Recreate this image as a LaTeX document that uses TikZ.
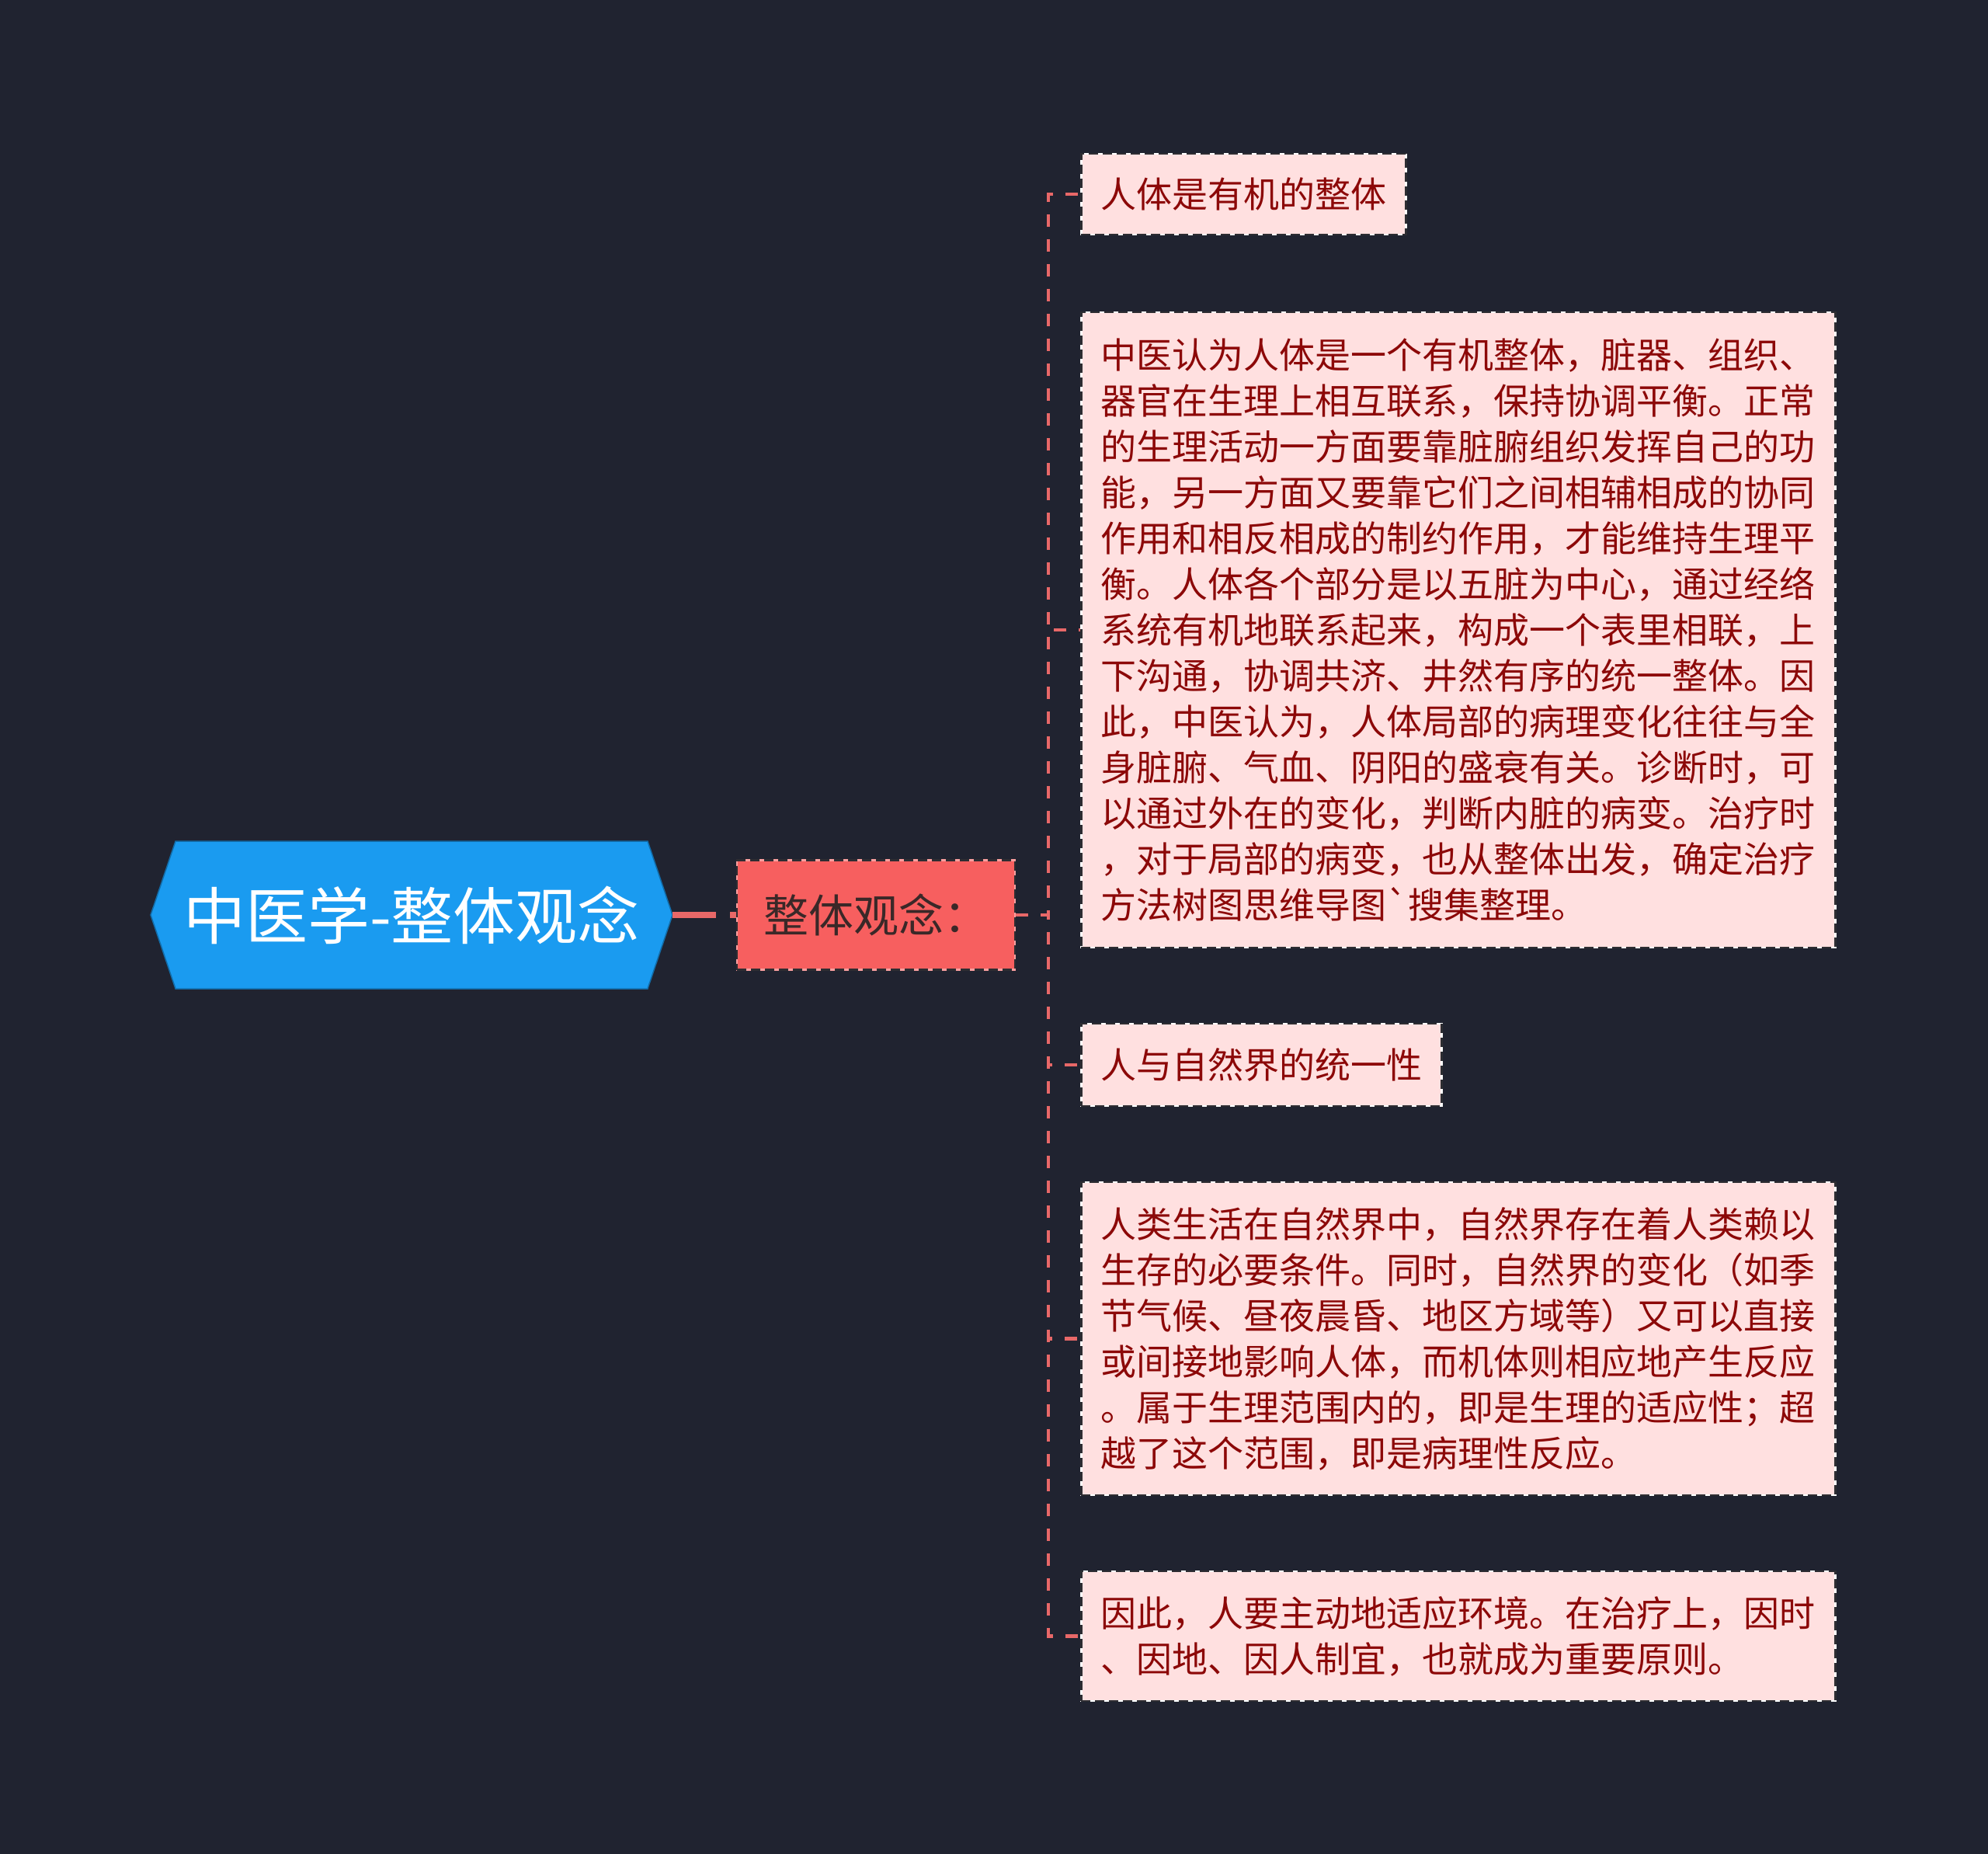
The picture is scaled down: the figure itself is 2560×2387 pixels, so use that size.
\documentclass[tikz,border=0pt]{standalone}
\usepackage{fontspec}
\newfontfamily\cjk{Noto Sans CJK SC}
\definecolor{bg}{RGB}{32,35,48}
\definecolor{hexblue}{RGB}{26,155,240}
\definecolor{midfill}{RGB}{247,95,95}
\definecolor{midtext}{RGB}{58,40,40}
\definecolor{leaffill}{RGB}{255,224,224}
\definecolor{leaftext}{RGB}{140,8,8}
\definecolor{conn}{RGB}{232,104,104}
\definecolor{bordark}{RGB}{45,45,50}
\begin{document}
\begin{tikzpicture}[x=1pt,y=-1pt,
  rootbox/.style={minimum width=672pt, minimum height=190pt, inner sep=0pt, text=white,
    font=\cjk\fontsize{80}{96}\selectfont},
  midbox/.style={fill=midfill, draw=midfill!60!white, line width=2.5pt,
    postaction={draw=bordark, line width=2.5pt, dash pattern=on 12pt off 6pt},
    minimum width=358pt, minimum height=141pt, inner sep=0pt, text=midtext,
    font=\cjk\fontsize{58}{70}\selectfont},
  leafbox/.style={fill=leaffill, draw=white, line width=2.5pt,
    postaction={draw=bordark, line width=2.5pt, dash pattern=on 12pt off 6pt},
    anchor=west, inner xsep=25pt, inner ysep=0pt, text=leaftext, align=left,
    font=\cjk\fontsize{46}{59}\selectfont},
  mainlink/.style={draw=conn, line width=7.5pt, dash pattern=on 56pt off 18pt},
  branch/.style={draw=conn, line width=4.5pt, dash pattern=on 16pt off 16pt}
]
\fill[bg] (0,0) rectangle (2560,2387);
\useasboundingbox (0,0) rectangle (2560,2387);

% root hexagon
\fill[hexblue, draw=hexblue!70!black, line width=1.5pt]
  (194,1178) -- (226,1083) -- (834,1083) -- (866,1178) -- (834,1273) -- (226,1273) -- cycle;
\node[rootbox] (root) at (530,1178) {中医学-整体观念};

\node[midbox] (mid) at (1128,1178) {整体观念：};

\node[leafbox, minimum width=416pt, minimum height=104pt] (l1) at (1391,250) {人体是有机的整体};

\node[leafbox, text width=921pt, minimum height=818pt] (l2) at (1391,811) {中医认为人体是一个有机整体，脏器、组织、\\
器官在生理上相互联系，保持协调平衡。正常\\
的生理活动一方面要靠脏腑组织发挥自己的功\\
能，另一方面又要靠它们之间相辅相成的协同\\
作用和相反相成的制约作用，才能维持生理平\\
衡。人体各个部分是以五脏为中心，通过经络\\
系统有机地联系起来，构成一个表里相联，上\\
下沟通，协调共济、井然有序的统一整体。因\\
此，中医认为，人体局部的病理变化往往与全\\
身脏腑、气血、阴阳的盛衰有关。诊断时，可\\
以通过外在的变化，判断内脏的病变。治疗时\\
，对于局部的病变，也从整体出发，确定治疗\\
方法树图思维导图\symbol{96}搜集整理。};

\node[leafbox, minimum width=464pt, minimum height=106pt] (l3) at (1391,1371) {人与自然界的统一性};

\node[leafbox, text width=921pt, minimum height=403pt] (l4) at (1391,1723.5) {人类生活在自然界中，自然界存在着人类赖以\\
生存的必要条件。同时，自然界的变化（如季\\
节气候、昼夜晨昏、地区方域等）又可以直接\\
或间接地影响人体，而机体则相应地产生反应\\
。属于生理范围内的，即是生理的适应性；超\\
越了这个范围，即是病理性反应。};

\node[leafbox, text width=921pt, minimum height=167pt] (l5) at (1391,2106.5) {因此，人要主动地适应环境。在治疗上，因时\\
、因地、因人制宜，也就成为重要原则。};

% connectors
\coordinate (sp) at (1350,1178);
\draw[mainlink] (root.east) -- (mid.west);
\foreach \l in {l1,l2,l3,l4,l5}
  \draw[branch] (mid.east) -- (sp) |- (\l.west);
\end{tikzpicture}
\end{document}
